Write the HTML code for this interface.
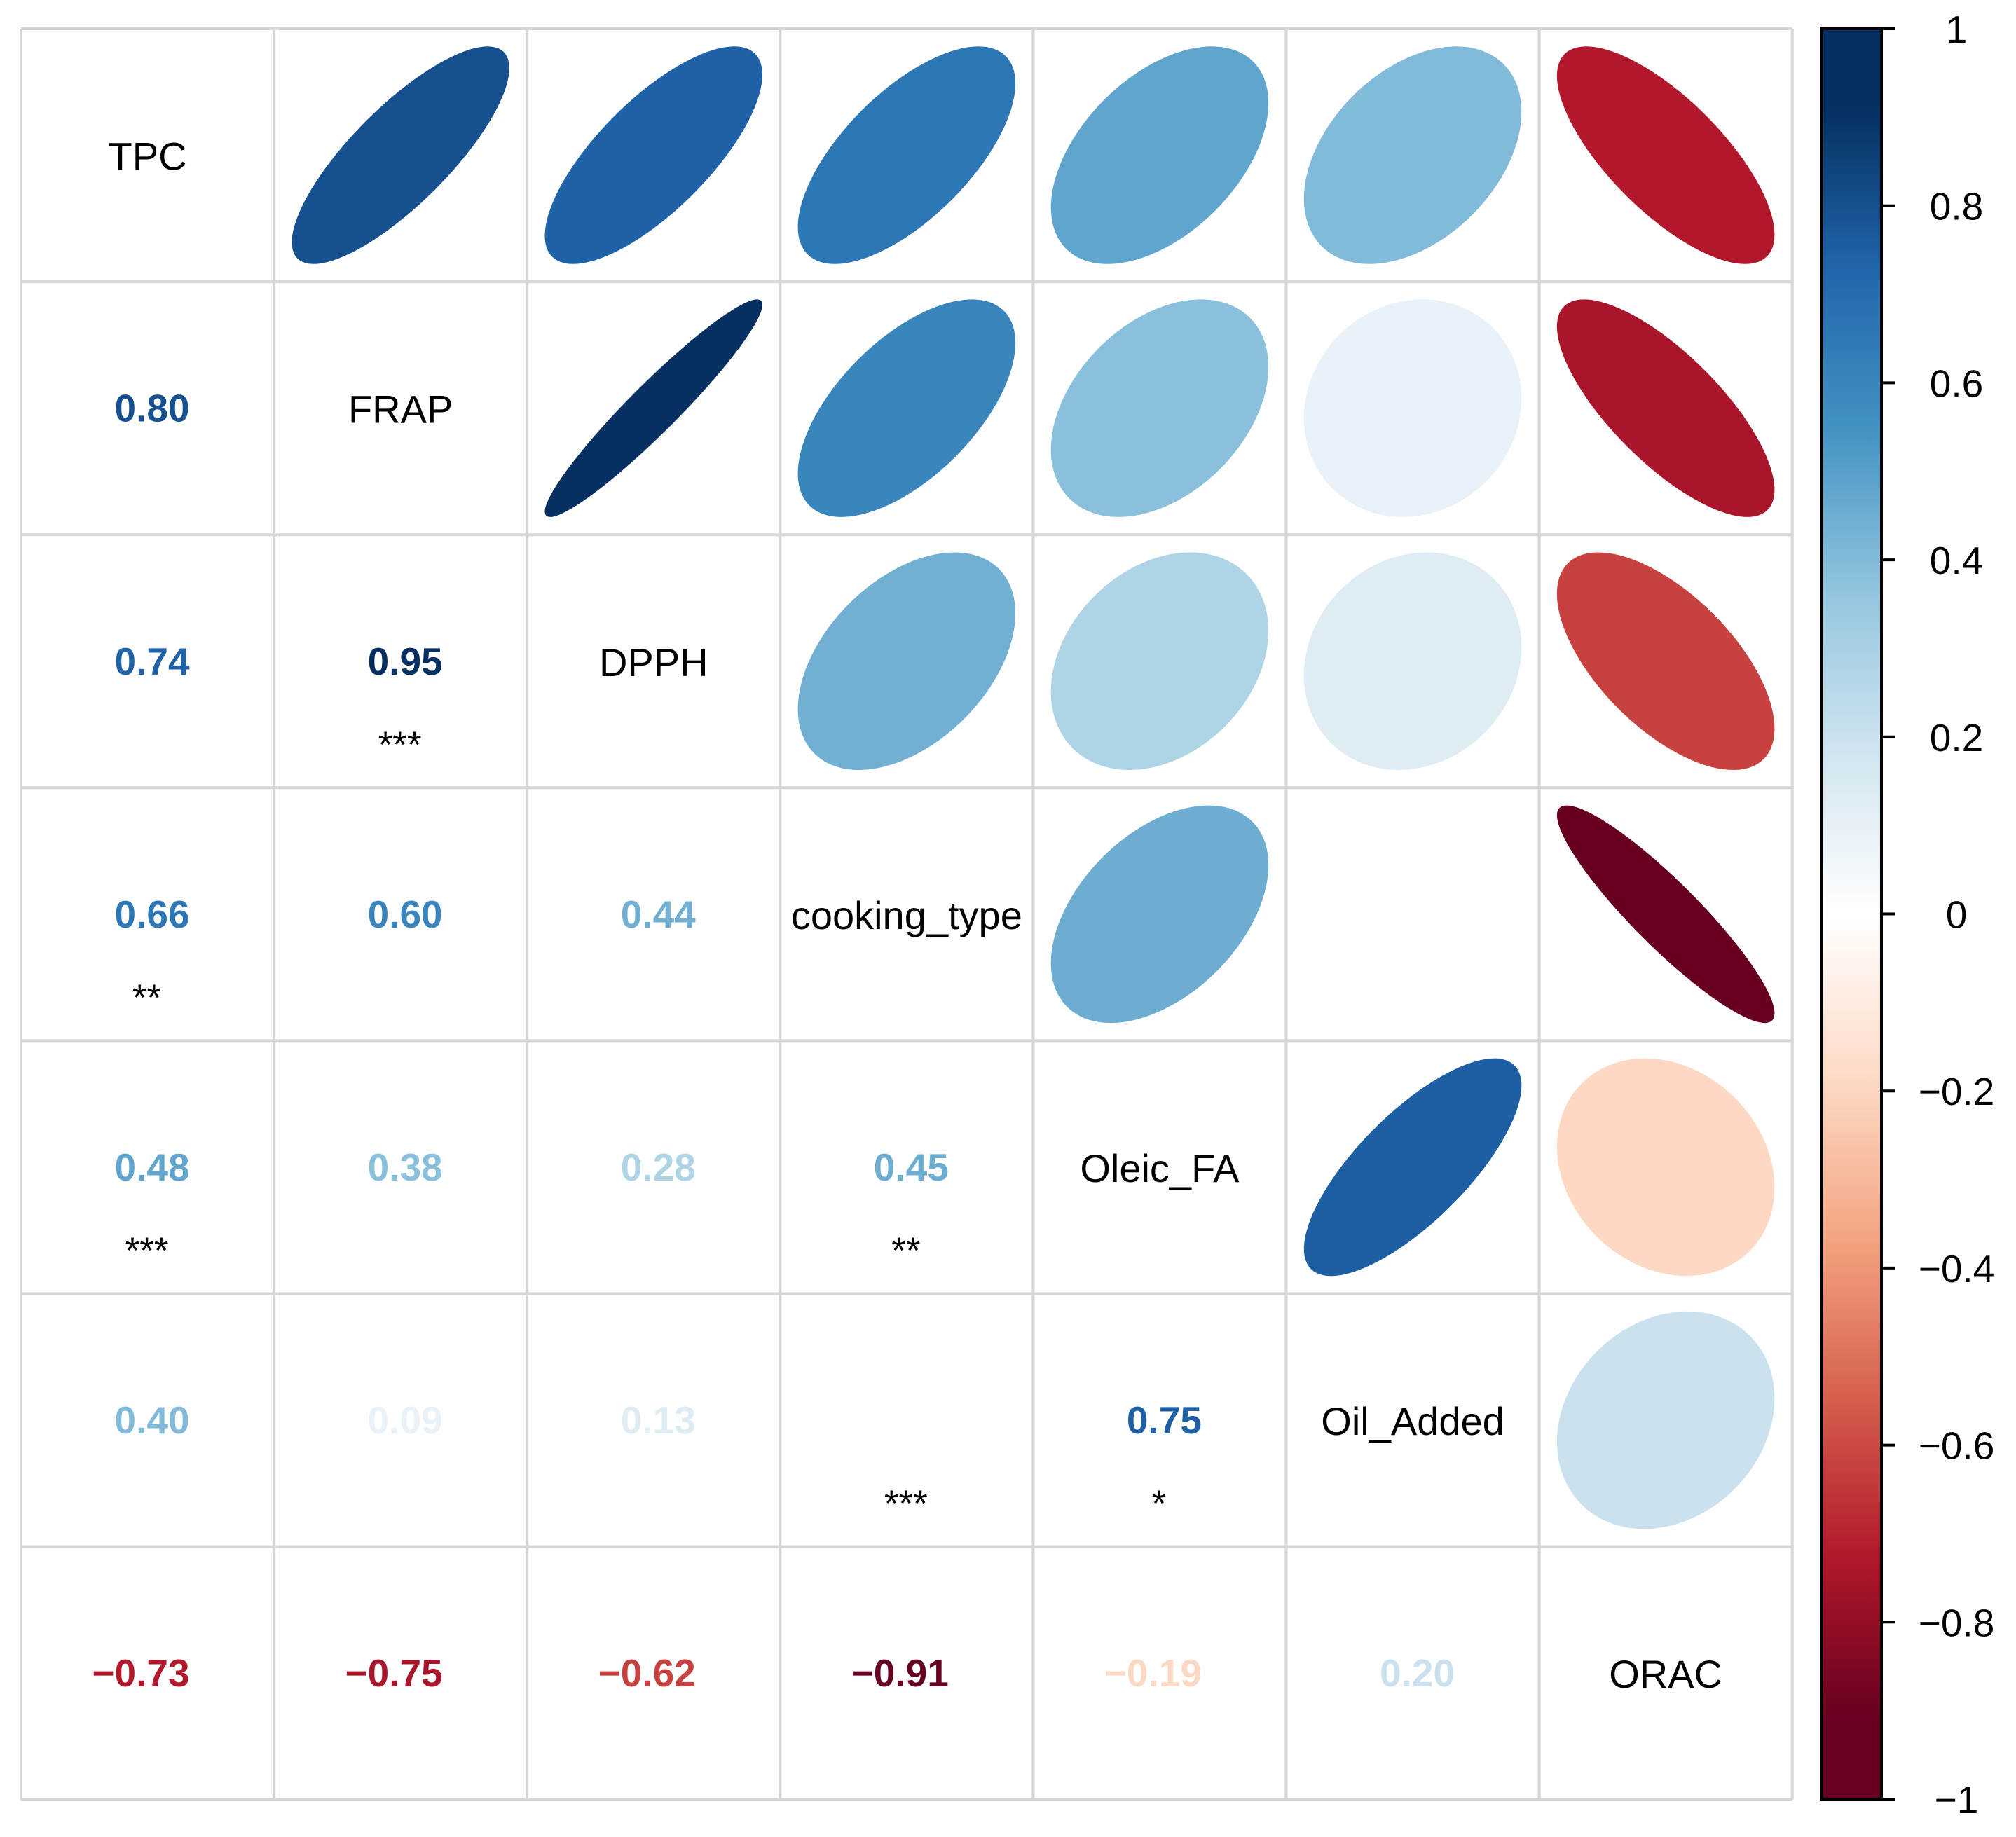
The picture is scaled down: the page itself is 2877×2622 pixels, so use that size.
<!DOCTYPE html>
<html><head><meta charset="utf-8"><style>
html,body{margin:0;padding:0;background:#fff}
svg{display:block}
text{font-family:"Liberation Sans",Arial,sans-serif}
</style></head><body>
<svg id="chart" xmlns="http://www.w3.org/2000/svg" width="2877" height="2622" viewBox="0 0 2877 2622">
<defs><linearGradient id="cbgrad" x1="0" y1="0" x2="0" y2="1"></linearGradient></defs>
<g id="cells"></g>
<g id="legend"></g>
</svg>
<script>
const variables = ["TPC","FRAP","DPPH","cooking_type","Oleic_FA","Oil_Added","ORAC"];
// lower triangle correlations, row i, columns 0..i-1
const corrRows = [
  [],
  [0.80],
  [0.74,0.95],
  [0.66,0.60,0.44],
  [0.48,0.38,0.28,0.45],
  [0.40,0.09,0.13,0.00,0.75],
  [-0.73,-0.75,-0.62,-0.91,-0.19,0.20]
];
const sigStars = [
  [],
  [""],
  ["","***"],
  ["**","",""],
  ["***","","","**"],
  ["","","","***","*"],
  ["","","","","",""]
];
const legendTicks = [1,0.8,0.6,0.4,0.2,0,-0.2,-0.4,-0.6,-0.8,-1];
const palette = ["#67001F","#B2182B","#D6604D","#F4A582","#FDDBC7","#FFFFFF","#D1E5F0","#92C5DE","#4393C3","#2166AC","#053061"];

const NS="http://www.w3.org/2000/svg";
const X0=30,Y0=41,CELL=361.1,N=variables.length;
const CB_X=2600,CB_W=85,CB_TOP=41,CB_BOT=2568;
const WARP=1.1;
function mk(tag,attrs,parent){const e=document.createElementNS(NS,tag);for(const k in attrs)e.setAttribute(k,attrs[k]);parent.appendChild(e);return e;}
function hex2rgb(h){return [1,3,5].map(i=>parseInt(h.substr(i,2),16));}
function colorFor(r){
  const v=Math.max(-1,Math.min(1,r*WARP));
  const t=(v+1)/2*(palette.length-1);
  const i=Math.min(Math.floor(t),palette.length-2),f=t-i;
  const a=hex2rgb(palette[i]),b=hex2rgb(palette[i+1]);
  return "rgb("+a.map((v,k)=>Math.round(v+(b[k]-v)*f)).join(",")+")";
}
function corr(i,j){return i>j?corrRows[i][j]:corrRows[j][i];}
function fmt(r){const s=Math.abs(r).toFixed(2);return (r<0?"\u2212":"")+s;}
function cx(j){return X0+(j+0.5)*CELL;}
function cy(i){return Y0+(i+0.5)*CELL;}
function yScale(v){return CB_TOP+(1-v)/2*(CB_BOT-CB_TOP);}

const cells=document.getElementById("cells");
for(let i=0;i<N;i++){
  for(let j=0;j<N;j++){
    const x=cx(j),y=cy(i);
    if(i===j){
      const t=mk("text",{x:x,y:y+21,"text-anchor":"middle","font-size":56,fill:"#000"},cells);
      
      
      t.textContent=variables[i];
    } else if(j>i){
      const r=corr(i,j);
      const R=0.43*CELL,d=Math.acos(r)/2;let p="";
      for(let k=0;k<=100;k++){const a=k/100*2*Math.PI;
        const px=x+R*Math.cos(a+d),py=y-R*Math.cos(a-d);
        p+=(k?"L":"M")+px.toFixed(1)+" "+py.toFixed(1);}
      const e=mk("path",{d:p+"Z",fill:colorFor(r)},cells);
      
      
    } else {
      const r=corr(i,j);
      const t=mk("text",{x:x+60,y:y+19,"text-anchor":"end","font-size":55,"font-weight":"bold",fill:colorFor(r)},cells);
      
      
      t.textContent=fmt(r);
      const s=sigStars[i][j];
      if(s){const st=mk("text",{x:x-1,y:y+137,"text-anchor":"middle","font-size":53,fill:"#000"},cells);
        
        
        st.textContent=s;}
    }
  }
}
// grid
for(let k=0;k<=N;k++){
  const g1=mk("line",{x1:X0+k*CELL,y1:Y0,x2:X0+k*CELL,y2:Y0+N*CELL,stroke:"#d6d6d6","stroke-width":4},cells);
  
  
  const g2=mk("line",{x1:X0,y1:Y0+k*CELL,x2:X0+N*CELL,y2:Y0+k*CELL,stroke:"#d6d6d6","stroke-width":4},cells);
  
  
}
// legend gradient sampled from the same color function
const grad=document.getElementById("cbgrad");
for(let k=0;k<=100;k++){const v=1-k/50;mk("stop",{offset:(k/100).toFixed(3),"stop-color":colorFor(v)},grad);}
const leg=document.getElementById("legend");
const bar=mk("rect",{x:CB_X,y:CB_TOP,width:CB_W,height:CB_BOT-CB_TOP,fill:"url(#cbgrad)",stroke:"#000","stroke-width":4},leg);


legendTicks.forEach(v=>{
  const y=yScale(v);
  const tk=mk("line",{x1:CB_X+CB_W,y1:y,x2:CB_X+CB_W+19,y2:y,stroke:"#000","stroke-width":4},leg);
  
  
  const t=mk("text",{x:2792,y:y+20,"text-anchor":"middle","font-size":55,fill:"#000"},leg);
  
  
  t.textContent=(v<0?"\u2212":"")+String(Math.abs(v));
});
</script>
</body></html>
